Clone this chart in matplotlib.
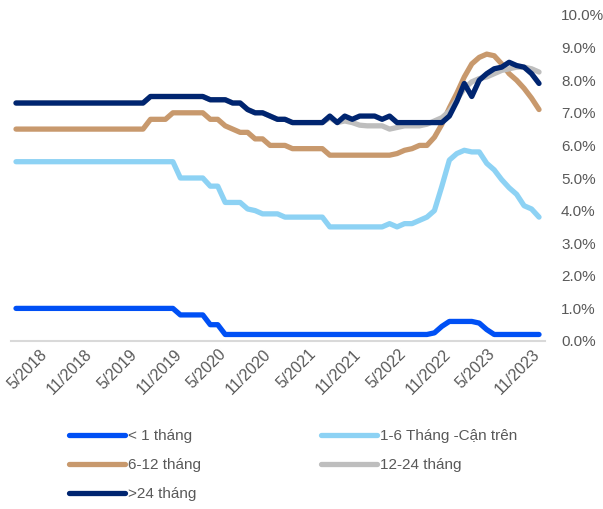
import numpy as np
import matplotlib.pyplot as plt
from matplotlib.transforms import ScaledTranslation

plt.rcParams['font.family'] = ['Liberation Sans', 'DejaVu Sans']

# monthly series, 1/2018 .. 11/2023 (%)
lt1 = [1.0, 1.0, 1.0, 1.0, 1.0, 1.0, 1.0, 1.0, 1.0, 1.0, 1.0, 1.0,
       1.0, 1.0, 1.0, 1.0, 1.0, 1.0, 1.0, 1.0, 1.0, 1.0, 0.8, 0.8,
       0.8, 0.8, 0.5, 0.5, 0.2, 0.2, 0.2, 0.2, 0.2, 0.2, 0.2, 0.2,
       0.2, 0.2, 0.2, 0.2, 0.2, 0.2, 0.2, 0.2, 0.2, 0.2, 0.2, 0.2,
       0.2, 0.2, 0.2, 0.2, 0.2, 0.2, 0.2, 0.2, 0.25, 0.45, 0.6, 0.6,
       0.6, 0.6, 0.55, 0.35, 0.2, 0.2, 0.2, 0.2, 0.2, 0.2, 0.2]
m1_6 = [5.5, 5.5, 5.5, 5.5, 5.5, 5.5, 5.5, 5.5, 5.5, 5.5, 5.5, 5.5,
        5.5, 5.5, 5.5, 5.5, 5.5, 5.5, 5.5, 5.5, 5.5, 5.5, 5.0, 5.0,
        5.0, 5.0, 4.75, 4.75, 4.25, 4.25, 4.25, 4.05, 4.0, 3.9, 3.9, 3.9,
        3.8, 3.8, 3.8, 3.8, 3.8, 3.8, 3.5, 3.5, 3.5, 3.5, 3.5, 3.5,
        3.5, 3.5, 3.6, 3.5, 3.6, 3.6, 3.7, 3.8, 4.0, 4.75, 5.55, 5.75,
        5.85, 5.8, 5.8, 5.45, 5.25, 4.95, 4.7, 4.5, 4.15, 4.05, 3.8]
m6_12 = [6.5, 6.5, 6.5, 6.5, 6.5, 6.5, 6.5, 6.5, 6.5, 6.5, 6.5, 6.5,
         6.5, 6.5, 6.5, 6.5, 6.5, 6.5, 6.8, 6.8, 6.8, 7.0, 7.0, 7.0,
         7.0, 7.0, 6.8, 6.8, 6.6, 6.5, 6.4, 6.4, 6.2, 6.2, 6.0, 6.0,
         6.0, 5.9, 5.9, 5.9, 5.9, 5.9, 5.7, 5.7, 5.7, 5.7, 5.7, 5.7,
         5.7, 5.7, 5.7, 5.75, 5.85, 5.9, 6.0, 6.0, 6.25, 6.65, 7.15, 7.6,
         8.1, 8.5, 8.7, 8.8, 8.75, 8.5, 8.2, 8.0, 7.75, 7.45, 7.1]
m12_24 = [7.3, 7.3, 7.3, 7.3, 7.3, 7.3, 7.3, 7.3, 7.3, 7.3, 7.3, 7.3,
          7.3, 7.3, 7.3, 7.3, 7.3, 7.3, 7.5, 7.5, 7.5, 7.5, 7.5, 7.5,
          7.5, 7.5, 7.4, 7.4, 7.4, 7.3, 7.3, 7.1, 7.0, 7.0, 6.9, 6.8,
          6.8, 6.7, 6.7, 6.7, 6.7, 6.7, 6.85, 6.7, 6.75, 6.7, 6.62, 6.6,
          6.6, 6.6, 6.5, 6.55, 6.6, 6.6, 6.6, 6.65, 6.75, 6.85, 7.05, 7.4,
          7.75, 7.95, 8.05, 8.1, 8.2, 8.3, 8.35, 8.4, 8.4, 8.35, 8.25]
gt24 = [7.3, 7.3, 7.3, 7.3, 7.3, 7.3, 7.3, 7.3, 7.3, 7.3, 7.3, 7.3,
        7.3, 7.3, 7.3, 7.3, 7.3, 7.3, 7.5, 7.5, 7.5, 7.5, 7.5, 7.5,
        7.5, 7.5, 7.4, 7.4, 7.4, 7.3, 7.3, 7.1, 7.0, 7.0, 6.9, 6.8,
        6.8, 6.7, 6.7, 6.7, 6.7, 6.7, 6.9, 6.7, 6.9, 6.8, 6.9, 6.9,
        6.9, 6.8, 6.9, 6.7, 6.7, 6.7, 6.7, 6.7, 6.7, 6.7, 6.9, 7.35,
        7.9, 7.5, 8.0, 8.2, 8.35, 8.4, 8.55, 8.45, 8.4, 8.2, 7.9]

tick_labels = ["5/2018", "11/2018", "5/2019", "11/2019", "5/2020", "11/2020",
               "5/2021", "11/2021", "5/2022", "11/2022", "5/2023", "11/2023"]

series = [
    (lt1, "< 1 tháng", "#0050F5"),
    (m1_6, "1-6 Tháng -Cận trên", "#8DD2F4"),
    (m6_12, "6-12 tháng", "#C8996D"),
    (m12_24, "12-24 tháng", "#BEBEBE"),
    (gt24, ">24 tháng", "#002570"),
]
txt = "#595959"

fig = plt.figure(figsize=(6.03, 5.09), dpi=100)
ax = fig.add_axes([11 / 603, 1 - 341 / 509, 534 / 603, 326 / 509])

x = np.arange(len(lt1))
handles = []
for vals, name, col in series:
    h, = ax.plot(x, vals, color=col, lw=3.8, label=name,
                 solid_capstyle='round', solid_joinstyle='round')
    handles.append(h)

ax.set_xlim(-0.67, 70.8)
ax.set_ylim(0, 10)
ax.set_yticks(np.arange(0, 10.5, 1))
ax.set_yticklabels(["%.1f%%" % v for v in np.arange(0, 10.5, 1)])
ax.yaxis.tick_right()
ax.tick_params(axis='y', length=0, pad=11.5, labelsize=11, labelcolor=txt)

ax.set_xticks(x[4::6])
ax.set_xticklabels(tick_labels, rotation=45, ha='right', va='top')
ax.tick_params(axis='x', length=0, pad=4, labelsize=11.5, labelcolor=txt)
shift = ScaledTranslation(4 / 100, 0, fig.dpi_scale_trans)
for lab in ax.get_xticklabels():
    lab.set_transform(lab.get_transform() + shift)

for s in ['top', 'left', 'right']:
    ax.spines[s].set_visible(False)
ax.spines['bottom'].set_color('#D9D9D9')
ax.spines['bottom'].set_linewidth(1.5)

# legend filled row by row like the original
order = [0, 2, 4, 1, 3]
leg = fig.legend([handles[i] for i in order], [series[i][1] for i in order],
                 ncol=2, loc='upper left', bbox_to_anchor=(69 / 603, 1 - 429 / 509),
                 frameon=False, fontsize=11, handlelength=3.66, handletextpad=0.2,
                 columnspacing=7.85, labelspacing=0.98, borderpad=0, borderaxespad=0)
for t in leg.get_texts():
    t.set_color(txt)

fig.savefig("out.png", dpi=100)
